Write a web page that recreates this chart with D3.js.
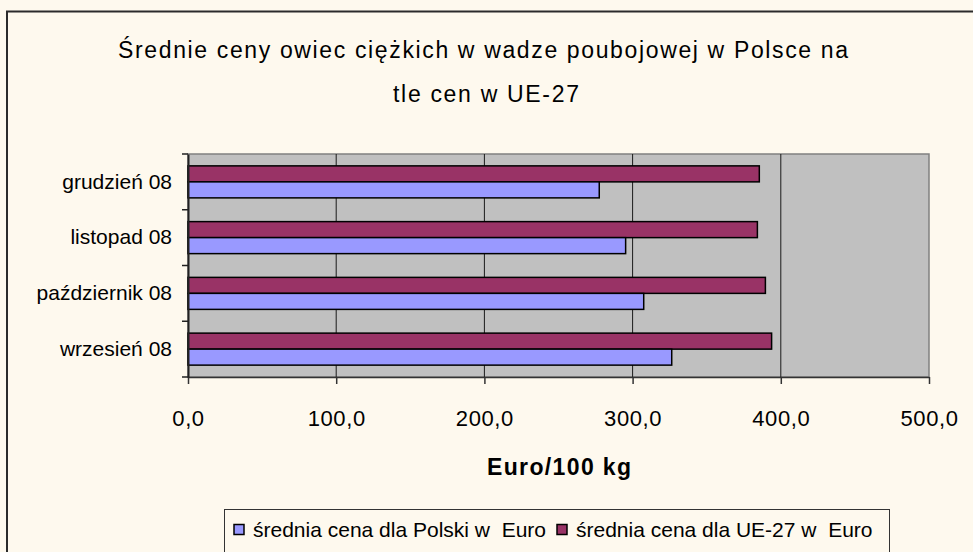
<!DOCTYPE html>
<html>
<head>
<meta charset="utf-8">
<script src="https://cdn.jsdelivr.net/npm/d3@7"></script>
<style>
  html, body { margin: 0; padding: 0; background: #fef9ee; }
  svg { display: block; }
  text { font-family: "Liberation Sans", Arial, sans-serif; fill: #000; }
</style>
</head>
<body>
<svg id="chart" width="973" height="552"></svg>
<script>
// chart data
const months = ['grudzień 08', 'listopad 08', 'październik 08', 'wrzesień 08']
const polska = [277.5, 295.3, 307.5, 326.4]
const ue27 = [385.5, 384.2, 389.6, 393.8]
const xTicks = [0, 100, 200, 300, 400, 500]
const seriesNames = ['średnia cena dla Polski w  Euro', 'średnia cena dla UE-27 w  Euro']
const seriesColors = ['#9999ff', '#993366']

const svg = d3.select('#chart')

// outer chart frame (runs off the right / bottom edge like the original)
svg.append('rect')
  .attr('x', 7)
  .attr('y', 11.5)
  .attr('width', 1000)
  .attr('height', 600)
  .style('fill', '#fef9ee')
  .style('stroke', '#2b2b2b')
  .style('stroke-width', 2)

// title
svg.append('text')
  .attr('x', 483)
  .attr('y', 58)
  .attr('text-anchor', 'middle')
  .attr('textLength', 730)
  .style('font-size', '23px')
  .text('Średnie ceny owiec ciężkich w wadze poubojowej w Polsce na')
svg.append('text')
  .attr('x', 486)
  .attr('y', 102)
  .attr('text-anchor', 'middle')
  .attr('textLength', 186)
  .style('font-size', '23px')
  .text('tle cen  w UE-27')

const plot = { left: 188, right: 929, top: 154, bottom: 377 }

const x = d3.scaleLinear()
  .domain([0, 500])
  .range([plot.left, plot.right])

const y = d3.scaleBand()
  .domain(months)
  .range([plot.top, plot.bottom])
  .paddingInner(0.426)
  .paddingOuter(0.213)

// two bars per month: UE-27 on top, Polska below
const sub = d3.scaleBand()
  .domain(['ue', 'pl'])
  .range([0, y.bandwidth()])

// plot background
svg.append('rect')
  .attr('x', plot.left)
  .attr('y', plot.top)
  .attr('width', plot.right - plot.left)
  .attr('height', plot.bottom - plot.top)
  .style('fill', '#c0c0c0')
  .style('stroke', '#808080')
  .style('stroke-width', 1.5)

// vertical gridlines
svg.selectAll('.grid')
  .data(xTicks.slice(1, -1))
  .enter()
  .append('line')
  .attr('class', 'grid')
  .attr('x1', d => x(d))
  .attr('x2', d => x(d))
  .attr('y1', plot.top)
  .attr('y2', plot.bottom)
  .style('stroke', '#1a1a1a')
  .style('stroke-width', 1)

const rows = months.map((m, i) => ({ month: m, pl: polska[i], ue: ue27[i] }))

const group = svg.selectAll('.row')
  .data(rows)
  .enter()
  .append('g')
  .attr('class', 'row')
  .attr('transform', d => 'translate(0,' + y(d.month) + ')')

group.append('rect')
  .attr('x', x(0))
  .attr('y', sub('ue'))
  .attr('width', d => x(d.ue) - x(0))
  .attr('height', sub.bandwidth())
  .style('fill', seriesColors[1])
  .style('stroke', '#000')
  .style('stroke-width', 1.5)

group.append('rect')
  .attr('x', x(0))
  .attr('y', sub('pl'))
  .attr('width', d => x(d.pl) - x(0))
  .attr('height', sub.bandwidth())
  .style('fill', seriesColors[0])
  .style('stroke', '#000')
  .style('stroke-width', 1.5)

// x axis
const fmt = d => d3.format('.1f')(d).replace('.', ',')
const xAxis = svg.append('g')
  .attr('transform', 'translate(0,' + plot.bottom + ')')
  .call(d3.axisBottom(x).tickValues(xTicks).tickFormat(fmt).tickSize(7).tickPadding(26).tickSizeOuter(0))
xAxis.select('.domain').style('stroke', '#333').style('stroke-width', 1.5)
xAxis.selectAll('.tick line').style('stroke', '#333').style('stroke-width', 1.5)
xAxis.selectAll('text')
  .style('font-size', '22px')
  .style('letter-spacing', '0.6px')
  .style('font-family', '"Liberation Sans", Arial, sans-serif')

// y axis (band boundaries as ticks)
const yAxis = svg.append('g')
  .attr('transform', 'translate(' + plot.left + ',0)')
  .call(d3.axisLeft(y).tickSize(0).tickPadding(16).tickSizeOuter(0))
yAxis.select('.domain').style('stroke', '#222').style('stroke-width', 2)
yAxis.selectAll('text')
  .style('font-size', '21px')
  .style('font-family', '"Liberation Sans", Arial, sans-serif')

const bounds = months.map(m => y(m) - (y.step() - y.bandwidth()) / 2).concat([plot.bottom])
yAxis.selectAll('.bound')
  .data(bounds)
  .enter()
  .append('line')
  .attr('class', 'bound')
  .attr('x1', -6)
  .attr('x2', 0)
  .attr('y1', d => d)
  .attr('y2', d => d)
  .style('stroke', '#222')
  .style('stroke-width', 1.5)

// axis title
svg.append('text')
  .attr('x', 559)
  .attr('y', 475)
  .attr('text-anchor', 'middle')
  .attr('textLength', 144)
  .style('font-size', '23px')
  .style('font-weight', 'bold')
  .text('Euro/100 kg')

// legend
const legend = svg.append('g')
legend.append('rect')
  .attr('x', 224.5)
  .attr('y', 509.5)
  .attr('width', 665)
  .attr('height', 60)
  .style('fill', '#fef9ee')
  .style('stroke', '#333')
  .style('stroke-width', 1)

const legendX = [234, 557]
seriesNames.forEach((name, i) => {
  legend.append('rect')
    .attr('x', legendX[i])
    .attr('y', 524.5)
    .attr('width', 10)
    .attr('height', 10)
    .style('fill', seriesColors[i])
    .style('stroke', '#000')
    .style('stroke-width', 1.5)
  legend.append('text')
    .attr('x', legendX[i] + 19)
    .attr('y', 537)
    .attr('xml:space', 'preserve')
    .style('font-size', '21px')
    .text(name)
})
</script>
</body>
</html>
